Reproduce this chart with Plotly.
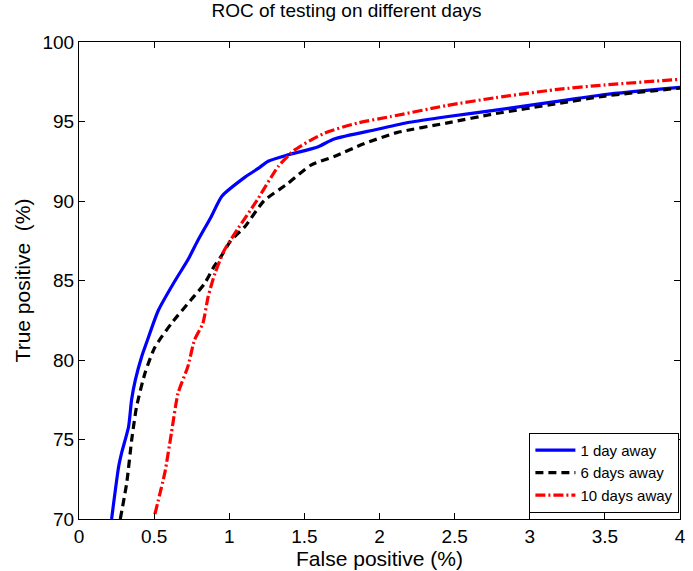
import plotly.graph_objects as go

# 1 day away
fp_1day = [0.217, 0.264, 0.285, 0.33, 0.35, 0.374, 0.417, 0.45, 0.527, 0.64, 0.725, 0.79, 0.879, 0.951,
           1.105, 1.193, 1.259, 1.39, 1.588, 1.698, 1.98, 2.2, 2.445, 2.774, 3.17, 3.5, 4.0]
tp_1day = [70.0, 73.3, 74.2, 75.8, 77.5, 78.7, 80.2, 81.1, 83.1, 85.0, 86.3, 87.5, 89.0, 90.3,
           91.5, 92.05, 92.5, 92.9, 93.4, 93.9, 94.5, 94.95, 95.3, 95.72, 96.25, 96.7, 97.15]

# 6 days away
fp_6days = [0.275, 0.318, 0.351, 0.384, 0.44, 0.505, 0.615, 0.747, 0.835, 0.9, 0.951, 1.01, 1.105,
            1.23, 1.39, 1.544, 1.698, 1.896, 2.115, 2.445, 2.774, 3.17, 3.5, 4.0]
tp_6days = [70.0, 72.3, 75.0, 77.1, 79.2, 80.8, 82.3, 83.8, 84.8, 85.9, 86.6, 87.5, 88.4,
            90.0, 91.1, 92.26, 92.8, 93.6, 94.3, 94.9, 95.5, 96.1, 96.6, 97.1]

# 10 days away
fp_10days = [0.505, 0.571, 0.615, 0.659, 0.725, 0.769, 0.824, 0.86, 0.905, 0.967, 1.054, 1.186,
             1.325, 1.434, 1.632, 1.852, 2.07, 2.445, 2.774, 3.17, 3.5, 4.0]
tp_10days = [70.3, 72.9, 75.4, 77.9, 79.6, 81.26, 82.3, 84.0, 85.45, 86.9, 88.2, 90.06,
             92.16, 93.2, 94.26, 94.9, 95.3, 96.0, 96.5, 97.0, 97.3, 97.65]

x_ticks = [0, 0.5, 1, 1.5, 2, 2.5, 3, 3.5, 4]
x_tick_labels = ["0", "0.5", "1", "1.5", "2", "2.5", "3", "3.5", "4"]
y_ticks = [70, 75, 80, 85, 90, 95, 100]

fig = go.Figure()
fig.add_trace(go.Scatter(x=fp_1day, y=tp_1day, mode="lines", name="1 day away",
                         line=dict(color="#0000ff", width=3.2, shape="spline", smoothing=0.6)))
fig.add_trace(go.Scatter(x=fp_6days, y=tp_6days, mode="lines", name="6 days away",
                         line=dict(color="#000000", width=3.2, dash="8px,5px", shape="spline", smoothing=0.6)))
fig.add_trace(go.Scatter(x=fp_10days, y=tp_10days, mode="lines", name="10 days away",
                         line=dict(color="#ff0000", width=3.2, dash="10px,3px,2px,3px", shape="spline", smoothing=0.6)))

font_family = "Liberation Sans, Arial, sans-serif"
axis_common = dict(showline=True, linecolor="black", linewidth=1, mirror="ticks",
                   ticks="inside", ticklen=6, tickcolor="black", showgrid=False, zeroline=False,
                   tickfont=dict(size=19, color="black", family=font_family))

fig.update_layout(
    width=693, height=571,
    plot_bgcolor="white", paper_bgcolor="white",
    margin=dict(l=79, r=7, t=42, b=52),
    title=dict(text="ROC of testing on different days", x=0.5, xanchor="center",
               y=0.993, yanchor="top", font=dict(size=19, color="black", family=font_family)),
    xaxis=dict(range=[0, 4], tickvals=x_ticks, ticktext=x_tick_labels,
               title=dict(text="False positive (%)", standoff=0,
                          font=dict(size=21, color="black", family=font_family)),
               **axis_common),
    yaxis=dict(range=[70, 100], tickvals=y_ticks,
               title=dict(text="True positive  (%)", standoff=6,
                          font=dict(size=21, color="black", family=font_family)),
               **axis_common),
    legend=dict(x=0.999, y=0.013, xanchor="right", yanchor="bottom",
                bordercolor="black", borderwidth=1, bgcolor="white",
                font=dict(size=15, color="black", family=font_family),
                tracegroupgap=0, itemwidth=40),
    showlegend=True,
)

fig.write_html("out.html", config={"displayModeBar": False},
               post_script="document.body.style.margin='0';")
